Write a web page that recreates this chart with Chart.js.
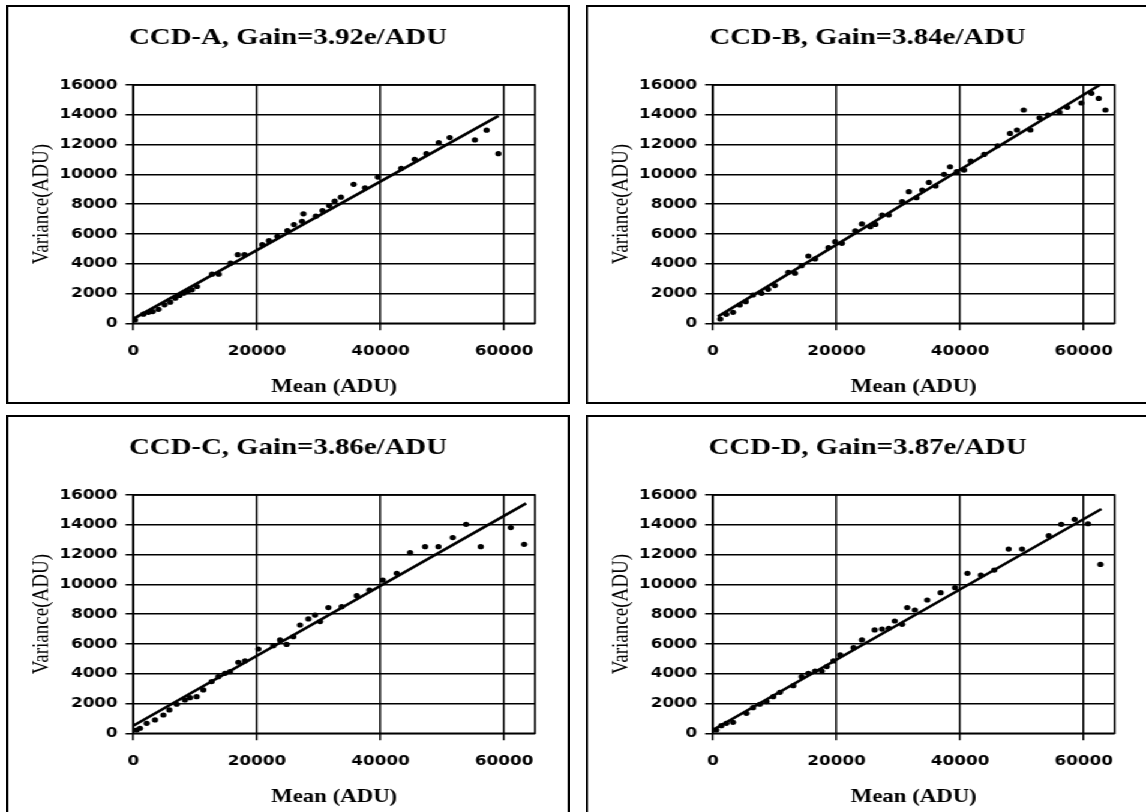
<!DOCTYPE html>
<html>
<head>
<meta charset="utf-8">
<script src="https://cdn.jsdelivr.net/npm/chart.js@4.4.1/dist/chart.umd.min.js"></script>
<style>
  html, body { margin: 0; padding: 0; background: #fff; width: 1146px; height: 812px; overflow: hidden; }
  /* the sheet is laid out narrow and widened horizontally, as in the printed figure */
  #sheet { position: absolute; left: 0; top: 0; width: 955px; height: 812px; transform: scaleX(1.2); transform-origin: 0 0; }
  .panel { position: absolute; width: 470px; height: 399px; }
  canvas { display: block; }
</style>
</head>
<body>
<div id="sheet">
  <div class="panel" style="left:5px;top:5px"><canvas id="cA" width="470" height="399"></canvas></div>
  <div class="panel" style="left:488.3px;top:5px"><canvas id="cB" width="470" height="399"></canvas></div>
  <div class="panel" style="left:5px;top:415px"><canvas id="cC" width="470" height="399"></canvas></div>
  <div class="panel" style="left:488.3px;top:415px"><canvas id="cD" width="470" height="399"></canvas></div>
</div>
<script>
// ---- photon transfer data: mean signal vs variance, both in ADU ----
const titles = ['CCD-A, Gain=3.92e/ADU', 'CCD-B, Gain=3.84e/ADU', 'CCD-C, Gain=3.86e/ADU', 'CCD-D, Gain=3.87e/ADU'];
const xTitle = 'Mean (ADU)';
const yTitle = 'Variance(ADU)';
const xTicks = [0, 20000, 40000, 60000];
const yTicks = [0, 2000, 4000, 6000, 8000, 10000, 12000, 14000, 16000];

const meanA = [270, 1630, 2440, 3140, 4070, 5040, 5960, 6780, 7480, 8130, 8780, 9490, 10300, 12740, 13820, 15720, 16910, 18000, 20870, 21950, 23310, 24930, 26000, 27530, 27300, 29540, 30620, 31700, 32600, 33600, 35660, 37500, 39570, 43360, 45530, 47430, 49430, 51200, 55280, 57180, 59080];
const varA  = [220, 610, 740, 790, 940, 1240, 1420, 1690, 1870, 2020, 2130, 2250, 2470, 3300, 3300, 4040, 4610, 4610, 5280, 5550, 5840, 6220, 6630, 7350, 6850, 7190, 7570, 7910, 8200, 8470, 9330, 9100, 9820, 10400, 11010, 11390, 12130, 12470, 12310, 12970, 11390];
const fitMeanA = [0, 59100];
const fitVarA  = [300, 13930];

const meanB = [1190, 2170, 3250, 4340, 5310, 6500, 7860, 8940, 10030, 12200, 13280, 14360, 15450, 16530, 18700, 19780, 20870, 23040, 24120, 25470, 26290, 27370, 28460, 30620, 31710, 32950, 33880, 34960, 36040, 37400, 38370, 39460, 40650, 41730, 43900, 46070, 48080, 49210, 50300, 51380, 52850, 54200, 56100, 57340, 59620, 61250, 62440, 63520];
const varB  = [290, 600, 740, 1230, 1450, 1900, 2010, 2280, 2530, 3420, 3360, 3870, 4520, 4320, 5080, 5480, 5370, 6200, 6670, 6490, 6640, 7270, 7270, 8170, 8840, 8430, 8950, 9460, 9220, 10000, 10510, 10180, 10290, 10890, 11340, 11920, 12750, 12980, 14320, 12980, 13800, 13980, 14160, 14500, 14790, 15440, 15100, 14320];
const fitMeanB = [800, 62600];
const fitVarB  = [450, 16000];

const meanC = [540, 1080, 2160, 3510, 4860, 5830, 7020, 8360, 9170, 10250, 11330, 12680, 13760, 14840, 15650, 17000, 18080, 20240, 22670, 23750, 24820, 25900, 26980, 28330, 29410, 30220, 31570, 33730, 36160, 38210, 40370, 42630, 44790, 47220, 49380, 51700, 53860, 56230, 61090, 63250];
const varC  = [220, 340, 670, 900, 1230, 1570, 1950, 2240, 2390, 2460, 2910, 3470, 3800, 4030, 4140, 4770, 4860, 5660, 5880, 6270, 5970, 6490, 7270, 7680, 7940, 7500, 8440, 8500, 9240, 9620, 10290, 10740, 12130, 12530, 12530, 13140, 14030, 12530, 13810, 12690];
const fitMeanC = [0, 63570];
const fitVarC  = [510, 15440];

const meanD = [540, 1360, 2170, 3250, 5420, 6500, 7590, 8670, 9760, 10840, 13010, 14360, 15450, 16530, 17620, 18430, 19510, 20600, 22760, 24120, 26180, 27370, 28460, 29430, 30620, 31440, 32680, 34690, 36860, 39190, 41190, 43360, 45530, 47860, 50030, 54360, 56370, 58540, 60700, 62710];
const varD  = [220, 510, 670, 740, 1340, 1720, 1950, 2130, 2460, 2750, 3200, 3800, 4030, 4180, 4180, 4480, 4860, 5260, 5750, 6270, 6940, 7000, 7050, 7540, 7320, 8440, 8280, 8950, 9440, 9780, 10740, 10630, 10960, 12370, 12370, 13270, 14030, 14370, 14070, 11340];
const fitMeanD = [0, 62870];
const fitVarD  = [220, 15060];

// ---- drawing ----
const INK = '#000';
const serif = '"Liberation Serif", "Times New Roman", serif';
const sans = '"DejaVu Sans", sans-serif';

// outer frame of each panel plus the closed plot-area border
const framePlugin = {
  id: 'frame',
  beforeDatasetsDraw(chart) {
    const { ctx, chartArea: a } = chart;
    ctx.save();
    ctx.strokeStyle = INK;
    ctx.lineWidth = 1.6;
    ctx.strokeRect(a.left, a.top, a.right - a.left, a.bottom - a.top);
    ctx.restore();
  },
  afterDraw(chart) {
    const { ctx, width, height } = chart;
    ctx.save();
    ctx.strokeStyle = INK;
    ctx.lineWidth = 2;
    ctx.strokeRect(1, 1, width - 2, height - 2);
    ctx.restore();
  }
};

function pairs(xs, ys) { return xs.map((x, i) => ({ x: x, y: ys[i] })); }

function makePanel(id, title, mean, variance, fitMean, fitVar) {
  new Chart(document.getElementById(id), {
    type: 'scatter',
    data: {
      datasets: [
        {
          data: pairs(mean, variance),
          pointRadius: 2.6,
          pointBackgroundColor: INK,
          pointBorderWidth: 0,
          showLine: false
        },
        {
          data: pairs(fitMean, fitVar),
          showLine: true,
          borderColor: INK,
          borderWidth: 2.6,
          pointRadius: 0
        }
      ]
    },
    options: {
      responsive: false,
      animation: false,
      events: [],
      layout: { padding: 0 },
      plugins: {
        legend: { display: false },
        tooltip: { enabled: false },
        title: {
          display: true,
          text: title,
          color: INK,
          font: { family: serif, size: 24, weight: 'bold', lineHeight: 1.2 },
          padding: { top: 18.6, bottom: 32.6 }
        }
      },
      scales: {
        x: {
          type: 'linear',
          min: 0,
          max: 65000,
          afterBuildTicks(axis) { axis.ticks = xTicks.map(v => ({ value: v })); },
          afterFit(axis) { axis.height = 80.7; },
          grid: { color: INK, lineWidth: 1.5, tickLength: 7, tickColor: INK, tickWidth: 1.5 },
          border: { display: false },
          ticks: {
            color: INK,
            padding: 12.3,
            maxRotation: 0,
            font: { family: sans, size: 14, weight: 'bold', lineHeight: 1.2 },
            callback: v => String(v)
          },
          title: {
            display: true,
            text: xTitle,
            color: INK,
            font: { family: serif, size: 19, weight: 'bold', lineHeight: 1.2 },
            padding: { top: 0, bottom: 5.6 }
          }
        },
        y: {
          type: 'linear',
          min: 0,
          max: 16000,
          afterBuildTicks(axis) { axis.ticks = yTicks.map(v => ({ value: v })); },
          afterFit(axis) { axis.width = 106.1; },
          grid: { color: INK, lineWidth: 1.5, tickLength: 6.5, tickColor: INK, tickWidth: 1.5 },
          border: { display: false },
          ticks: {
            color: INK,
            padding: 6.5,
            font: { family: sans, size: 14, weight: 'bold', lineHeight: 1.2 },
            callback: v => String(v)
          },
          title: {
            display: true,
            text: yTitle,
            color: INK,
            font: { family: serif, size: 19, weight: 'normal', lineHeight: 1.2 },
            padding: { top: 19, bottom: 0 }
          }
        },
        // empty right-hand margin so the title centres across the whole panel
        yMargin: {
          type: 'linear',
          position: 'right',
          display: true,
          min: 0,
          max: 16000,
          afterBuildTicks(axis) { axis.ticks = []; },
          afterFit(axis) { axis.width = 29.2; },
          grid: { display: false, drawTicks: false },
          border: { display: false },
          ticks: { display: false }
        }
      }
    },
    plugins: [framePlugin]
  });
}

makePanel('cA', titles[0], meanA, varA, fitMeanA, fitVarA);
makePanel('cB', titles[1], meanB, varB, fitMeanB, fitVarB);
makePanel('cC', titles[2], meanC, varC, fitMeanC, fitVarC);
makePanel('cD', titles[3], meanD, varD, fitMeanD, fitVarD);
</script>
</body>
</html>
